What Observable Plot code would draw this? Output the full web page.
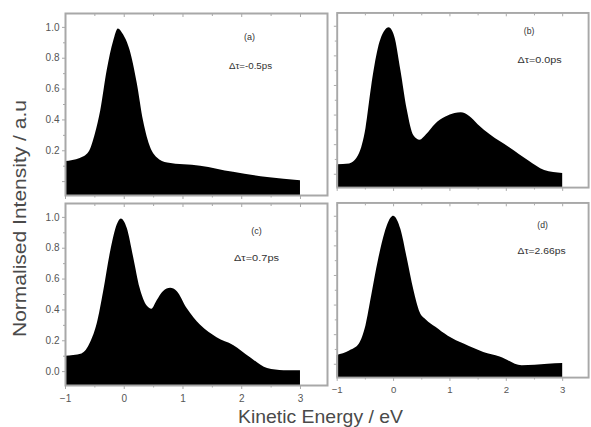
<!DOCTYPE html>
<html>
<head>
<meta charset="utf-8">
<script src="https://cdn.jsdelivr.net/npm/d3@7"></script>
<script src="https://cdn.jsdelivr.net/npm/@observablehq/plot@0.6"></script>
<style>
  html, body { margin: 0; padding: 0; background: #fff; overflow: hidden; }
  #wrap { position: relative; width: 591px; height: 427px; overflow: hidden; font-family: "Liberation Sans", Arial, sans-serif; }
  .panel { position: absolute; }
  #titles { position: absolute; left: 0; top: 0; pointer-events: none; }
</style>
</head>
<body>
<div id="wrap">
  <svg id="titles" width="591" height="427" xmlns="http://www.w3.org/2000/svg">
    <text transform="translate(26,218.5) rotate(-90)" text-anchor="middle" font-family="Liberation Sans, Arial, sans-serif" font-size="18" fill="#4a4a4a" textLength="237" lengthAdjust="spacingAndGlyphs">Normalised Intensity / a.u</text>
    <text x="320.5" y="423" text-anchor="middle" font-family="Liberation Sans, Arial, sans-serif" font-size="18.5" fill="#4a4a4a" textLength="165" lengthAdjust="spacingAndGlyphs">Kinetic Energy / eV</text>
  </svg>
</div>
<script>
// ---- data ----
const panelLetters = ["(a)", "(b)", "(c)", "(d)"];
const delayLabels = ["Δτ=-0.5ps", "Δτ=0.0ps", "Δτ=0.7ps", "Δτ=2.66ps"];

const energyA = [-1, -0.75, -0.6, -0.49, -0.4, -0.29, -0.18, -0.1, -0.01, 0.1, 0.22, 0.33, 0.45, 0.56, 0.74, 1.3, 1.86, 2.44, 3.0];
const intensityA = [0.13, 0.15, 0.19, 0.31, 0.46, 0.72, 0.91, 0.99, 0.95, 0.85, 0.64, 0.39, 0.22, 0.155, 0.12, 0.10, 0.06, 0.026, 0.006];

const energyB = [-1, -0.78, -0.61, -0.49, -0.39, -0.27, -0.15, -0.08, 0.02, 0.13, 0.24, 0.36, 0.47, 0.58, 0.75, 0.92, 1.09, 1.2, 1.35, 1.5, 1.72, 2.06, 2.4, 2.68, 3.0];
const intensityB = [0.065, 0.07, 0.135, 0.31, 0.59, 0.85, 0.97, 0.99, 0.93, 0.70, 0.44, 0.26, 0.23, 0.265, 0.34, 0.385, 0.41, 0.415, 0.39, 0.335, 0.265, 0.18, 0.09, 0.026, 0.006];

const energyC = [-1, -0.72, -0.57, -0.46, -0.35, -0.23, -0.12, -0.05, 0.05, 0.16, 0.27, 0.39, 0.47, 0.56, 0.67, 0.79, 0.9, 1.07, 1.3, 1.58, 1.86, 2.15, 2.44, 2.72, 3.0];
const intensityC = [0.10, 0.115, 0.19, 0.31, 0.52, 0.78, 0.95, 0.99, 0.93, 0.74, 0.54, 0.425, 0.405, 0.46, 0.52, 0.54, 0.52, 0.41, 0.30, 0.22, 0.17, 0.09, 0.02, 0.006, 0.005];

const energyD = [-1, -0.78, -0.61, -0.49, -0.39, -0.27, -0.15, -0.04, 0.0, 0.13, 0.24, 0.36, 0.47, 0.58, 0.75, 0.97, 1.26, 1.6, 1.89, 2.28, 2.74, 3.0];
const intensityD = [0.06, 0.09, 0.135, 0.26, 0.46, 0.70, 0.89, 0.99, 1.0, 0.91, 0.72, 0.50, 0.35, 0.30, 0.25, 0.19, 0.135, 0.08, 0.05, -0.01, 0.0, 0.005];

const xMajorTicks = [-1, 0, 1, 2, 3];
const xMinorTicks = [-0.5, 0.5, 1.5, 2.5];
const yTicksA = [0.2, 0.4, 0.6, 0.8, 1.0];
const yTicksC = [0.0, 0.2, 0.4, 0.6, 0.8, 1.0];
const yMinorTicks = [0.1, 0.3, 0.5, 0.7, 0.9];

const xDomain = [-1, 3.46];
const yDomain = [-0.09, 1.09];

const panels = [
  {energy: energyA, intensity: intensityA, left: 0,   top: 0,   ml: 65, mt: 13, mb: 3,  yLabels: yTicksA, xLabels: false, letterDx: -78, letterDy: 24, textDx: -77, textDy: 53, textLen: 43},
  {energy: energyB, intensity: intensityB, left: 330, top: 0,   ml: 7,  mt: 13, mb: 3,  yLabels: null,    xLabels: false, letterDx: -62, letterDy: 19, textDx: -51, textDy: 49, textLen: 46},
  {energy: energyC, intensity: intensityC, left: 0,   top: 190, ml: 65, mt: 13, mb: 25, yLabels: yTicksC, xLabels: true,  letterDx: -71, letterDy: 28, textDx: -71, textDy: 55, textLen: 45},
  {energy: energyD, intensity: intensityD, left: 330, top: 190, ml: 7,  mt: 13, mb: 25, yLabels: null,    xLabels: true,  letterDx: -48, letterDy: 23, textDx: -49, textDy: 50, textLen: 50}
];

const gray = "#a8a8a8";
const textGray = "#555";
const noText = () => "";
const wrap = document.getElementById("wrap");

panels.forEach((p, i) => {
  const rows = p.energy.map((e, k) => ({energy: e, intensity: p.intensity[k]}));
  const plotW = 262;
  const plotH = 182;
  const width = p.ml + plotW + 3;
  const height = p.mt + plotH + p.mb;
  const marks = [
    Plot.areaY(rows, {x: "energy", y1: yDomain[0], y2: "intensity", fill: "#000", curve: "monotone-x"}),
    Plot.frame({stroke: gray, strokeWidth: 2}),
    // y ticks (outward, left)
    Plot.axisY({ticks: yTicksC, tickSize: 3, tickFormat: noText, label: null, stroke: gray, anchor: "left"}),
    Plot.axisY({ticks: yMinorTicks, tickSize: 2, tickFormat: noText, label: null, stroke: gray, anchor: "left"}),
    // x ticks bottom (outward) and top (inward)
    Plot.axisX({ticks: xMajorTicks, tickSize: 4, tickFormat: noText, label: null, stroke: gray, anchor: "bottom"}),
    Plot.axisX({ticks: xMinorTicks, tickSize: 2.5, tickFormat: noText, label: null, stroke: gray, anchor: "bottom"}),
    Plot.axisX({ticks: xMajorTicks, tickSize: -3, tickFormat: noText, label: null, stroke: gray, anchor: "top"}),
    Plot.axisX({ticks: xMinorTicks, tickSize: -2, tickFormat: noText, label: null, stroke: gray, anchor: "top"}),
    Plot.text([panelLetters[i]], {frameAnchor: "top-right", dx: p.letterDx, dy: p.letterDy, text: d => d, textAnchor: "middle", lineAnchor: "middle", fontSize: 9, fill: "#333"}),
    Plot.text([delayLabels[i]], {frameAnchor: "top-right", dx: p.textDx, dy: p.textDy, text: d => d, textAnchor: "middle", lineAnchor: "middle", fontSize: 8.5, fill: "#333"})
  ];
  if (p.yLabels) {
    marks.push(Plot.axisY({ticks: p.yLabels, tickSize: 0, tickPadding: 6, tickFormat: d3.format(".1f"), label: null, anchor: "left", fill: textGray, fontSize: 10}));
  }
  if (p.xLabels) {
    marks.push(Plot.axisX({ticks: xMajorTicks, tickSize: 0, tickPadding: 9, tickFormat: d3.format("d"), label: null, anchor: "bottom", fill: textGray, fontSize: 10}));
  }
  const chart = Plot.plot({
    width, height,
    marginLeft: p.ml, marginRight: 3, marginTop: p.mt, marginBottom: p.mb,
    x: {domain: xDomain},
    y: {domain: yDomain},
    style: {fontFamily: "'Liberation Sans', Arial, sans-serif", background: "transparent", overflow: "visible"},
    marks
  });
  // stretch the delay label like the reference's wide lettering
  d3.select(chart).selectAll("text").each(function () {
    if (this.textContent === delayLabels[i]) {
      this.setAttribute("textLength", p.textLen);
      this.setAttribute("lengthAdjust", "spacingAndGlyphs");
    }
  });
  const div = document.createElement("div");
  div.className = "panel";
  div.style.left = p.left + "px";
  div.style.top = p.top + "px";
  div.appendChild(chart);
  wrap.insertBefore(div, wrap.firstChild);
});
</script>
</body>
</html>
